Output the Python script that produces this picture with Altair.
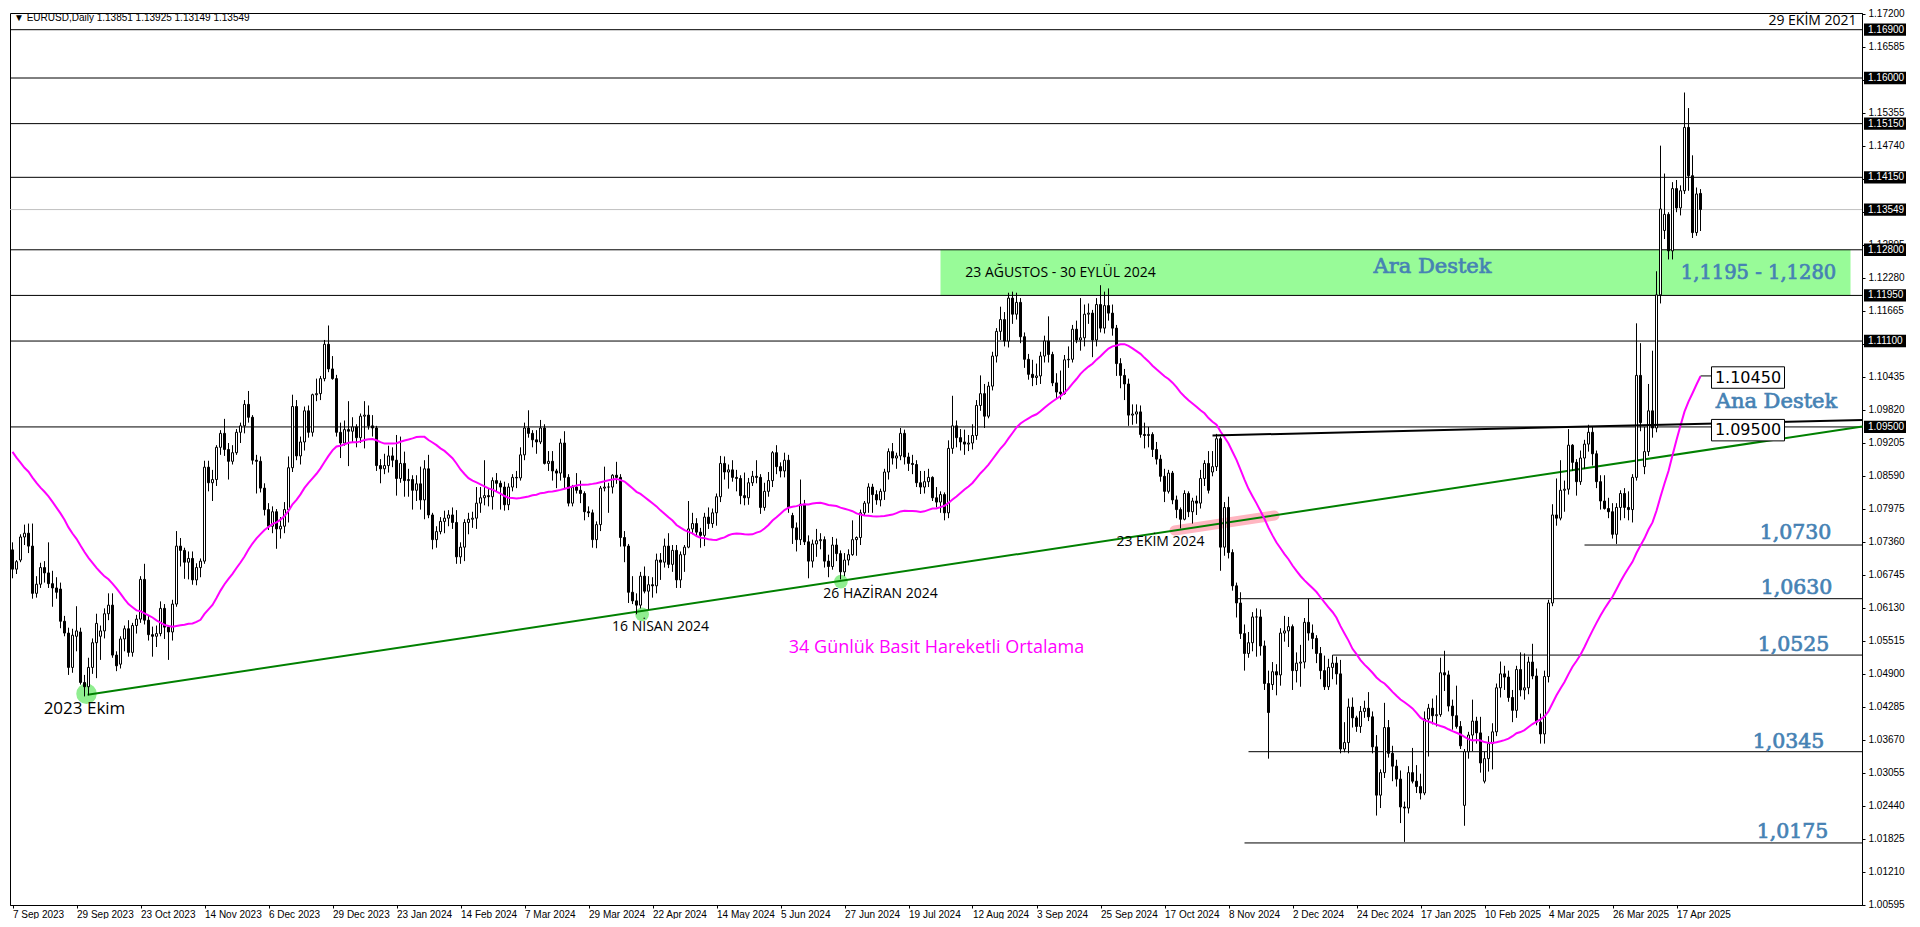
import altair as alt
import pandas as pd

# ---------------- data (prices x 10000) ----------------
# closes of the 33 sessions before the first visible bar (needed for the 34-day SMA)
PRE_CLOSE = [11065, 11055, 11085, 10975, 11015, 10995, 10985, 10940, 10945, 11005, 11000,
             10955, 10975, 10980, 10950, 10905, 10905, 10875, 10870, 10870, 10895, 10845,
             10865, 10805, 10795, 10815, 10880, 10925, 10845, 10775, 10795, 10720, 10725]

# (open, high, low, close)
SEP_2023 = [(10721,10735,10668,10685),(10685,10702,10676,10699),(10702,10750,10698,10745),
            (10745,10768,10730,10752),(10752,10770,10715,10728),(10728,10770,10630,10640),
            (10640,10672,10632,10657),(10657,10697,10650,10688),(10688,10700,10660,10678),
            (10678,10735,10650,10658),(10658,10682,10615,10650),(10650,10670,10630,10642),
            (10648,10660,10575,10588),(10588,10598,10560,10566),(10566,10576,10488,10502),
            (10502,10574,10492,10562),(10560,10616,10532,10570)]
OCT_2023 = [(10568,10576,10470,10474),(10474,10488,10448,10466),(10466,10520,10450,10502),
            (10502,10556,10490,10548),(10548,10602,10482,10584),(10560,10580,10516,10570),
            (10570,10612,10556,10602),(10602,10640,10590,10618),(10618,10640,10520,10525),
            (10525,10532,10495,10505),(10508,10560,10500,10555),(10555,10580,10532,10574),
            (10574,10590,10522,10530),(10530,10585,10522,10580),(10580,10600,10565,10592),
            (10592,10672,10585,10666),(10666,10695,10582,10590),(10590,10598,10552,10563),
            (10563,10578,10522,10560),(10560,10580,10540,10565),(10565,10625,10560,10612),
            (10612,10620,10555,10577)]
NOV_2023 = [(10577,10580,10516,10568),(10568,10628,10552,10620),(10620,10756,10615,10728),
            (10728,10743,10690,10720),(10720,10725,10667,10698),(10698,10718,10666,10705),
            (10705,10718,10656,10665),(10665,10696,10655,10688),(10688,10705,10670,10700),
            (10700,10887,10695,10875),(10875,10887,10830,10846),(10846,10870,10812,10852),
            (10852,10916,10840,10912),(10912,10944,10898,10938),(10938,10965,10896,10908),
            (10908,10920,10852,10886),(10886,10916,10880,10902),(10902,10946,10898,10940),
            (10940,10958,10920,10952),(10952,11000,10938,10992),(10992,11017,10958,10968),
            (10968,10972,10880,10888)]
DEC_2023 = [(10888,10898,10826,10886),(10886,10895,10828,10836),(10836,10845,10785,10796),
            (10796,10808,10758,10765),(10765,10802,10752,10792),(10792,10797,10723,10760),
            (10760,10782,10742,10765),(10765,10810,10752,10796),(10796,10895,10772,10874),
            (10874,11010,10866,10988),(10988,11000,10888,10896),(10896,10932,10880,10922),
            (10922,10988,10906,10980),(10980,10990,10930,10940),(10940,11012,10932,11010),
            (11010,11040,10998,11012),(11012,11045,11000,11040),(11040,11112,11035,11104),
            (11104,11139,11052,11058),(11058,11082,11038,11040)]
JAN_2024 = [(11040,11047,10932,10940),(10940,10958,10892,10920),(10920,10962,10915,10945),
            (10945,10998,10877,10942),(10942,10968,10920,10950),(10950,10955,10912,10930),
            (10930,10975,10920,10970),(10970,10998,10910,10972),(10972,10990,10945,10952),
            (10952,10972,10932,10948),(10948,10952,10868,10878),(10878,10890,10845,10872),
            (10872,10900,10862,10878),(10878,10915,10865,10896),(10896,10912,10875,10888),
            (10888,10935,10822,10854),(10854,10932,10846,10882),(10882,10904,10820,10850),
            (10850,10872,10820,10852),(10852,10860,10796,10832),(10832,10860,10812,10844),
            (10844,10876,10796,10814)]
FEB_2024 = [(10814,10888,10778,10872),(10872,10898,10780,10786),(10786,10790,10722,10740),
            (10740,10765,10725,10755),(10755,10782,10750,10774),(10774,10794,10752,10780),
            (10780,10795,10765,10786),(10786,10800,10760,10772),(10772,10795,10695,10708),
            (10708,10735,10695,10726),(10726,10778,10700,10772),(10772,10790,10750,10778),
            (10778,10792,10762,10780),(10780,10838,10760,10808),(10808,10838,10790,10818),
            (10818,10888,10804,10822),(10822,10836,10802,10820),(10820,10856,10796,10850),
            (10850,10864,10830,10845),(10845,10850,10796,10838),(10838,10848,10794,10805)]
MAR_2024 = [(10805,10845,10795,10838),(10838,10862,10830,10856),(10856,10868,10836,10855),
            (10855,10912,10850,10898),(10898,10958,10888,10948),(10948,10981,10930,10938),
            (10938,10944,10912,10926),(10926,10944,10900,10922),(10922,10963,10918,10948),
            (10948,10955,10880,10882),(10882,10905,10868,10886),(10886,10905,10850,10868),
            (10868,10872,10836,10864),(10864,10928,10850,10920),(10920,10942,10834,10856),
            (10856,10862,10802,10808),(10808,10842,10802,10838),(10838,10864,10826,10832),
            (10832,10850,10808,10826),(10826,10830,10776,10792),(10792,10802,10782,10790)]
APR_2024 = [(10790,10796,10725,10740),(10740,10774,10724,10768),(10768,10840,10756,10836),
            (10836,10876,10830,10838),(10838,10846,10790,10838),(10838,10862,10826,10860),
            (10860,10885,10844,10856),(10856,10862,10727,10744),(10744,10756,10698,10728),
            (10728,10732,10622,10642),(10642,10672,10620,10626),(10626,10640,10601,10618),
            (10618,10680,10612,10672),(10672,10690,10640,10644),(10644,10672,10610,10656),
            (10656,10670,10632,10654),(10654,10714,10640,10702),(10702,10715,10665,10698),
            (10698,10742,10688,10728),(10728,10752,10687,10694),(10694,10730,10680,10720),
            (10720,10730,10650,10665)]
MAY_2024 = [(10665,10718,10650,10712),(10712,10730,10680,10726),(10726,10812,10724,10760),
            (10760,10790,10750,10770),(10770,10780,10748,10754),(10754,10762,10725,10748),
            (10748,10790,10728,10782),(10782,10800,10760,10770),(10770,10798,10762,10790),
            (10790,10826,10766,10820),(10820,10896,10810,10882),(10882,10895,10852,10866),
            (10866,10880,10835,10870),(10870,10888,10848,10856),(10856,10870,10830,10854),
            (10854,10860,10806,10822),(10822,10865,10804,10818),(10818,10855,10805,10846),
            (10846,10868,10840,10858),(10858,10888,10845,10856),(10856,10862,10788,10800),
            (10800,10846,10794,10830),(10830,10866,10820,10850)]
JUN_2024 = [(10850,10905,10838,10902),(10902,10916,10862,10876),(10876,10884,10856,10868),
            (10868,10902,10856,10888),(10888,10898,10790,10800),(10785,10790,10732,10762),
            (10762,10772,10718,10740),(10740,10852,10730,10806),(10806,10814,10730,10736),
            (10736,10748,10668,10700),(10700,10740,10688,10732),(10732,10760,10708,10738),
            (10738,10752,10722,10740),(10740,10746,10688,10700),(10700,10712,10670,10690),
            (10690,10745,10684,10730),(10730,10742,10700,10714),(10714,10720,10666,10680),
            (10680,10715,10672,10702),(10702,10722,10692,10712)]
JUL_2024 = [(10712,10776,10710,10740),(10740,10746,10710,10744),(10744,10796,10730,10790),
            (10790,10812,10784,10808),(10808,10845,10790,10838),(10838,10844,10790,10824),
            (10824,10832,10805,10814),(10814,10835,10802,10830),(10830,10872,10814,10866),
            (10866,10910,10852,10904),(10904,10920,10880,10892),(10892,10902,10872,10896),
            (10896,10948,10888,10938),(10938,10945,10880,10894),(10894,10902,10868,10882),
            (10882,10898,10862,10880),(10880,10888,10838,10846),(10846,10868,10825,10838),
            (10838,10868,10826,10848),(10848,10872,10838,10856),(10856,10858,10812,10818),
            (10818,10838,10800,10810),(10810,10830,10790,10824)]
AUG_2024 = [(10824,10828,10776,10790),(10790,10925,10780,10910),(10910,11008,10900,10952),
            (10952,10962,10912,10930),(10930,10946,10906,10922),(10922,10945,10898,10918),
            (10918,10935,10905,10920),(10920,10955,10908,10934),(10934,11000,10926,10990),
            (10990,11046,10980,11012),(11012,11030,10948,10970),(10970,11034,10966,11026),
            (11026,11090,11018,11082),(11082,11134,11070,11128),(11128,11174,11112,11150),
            (11150,11164,11100,11110),(11110,11200,11098,11190),(11190,11202,11142,11160),
            (11160,11200,11150,11182),(11182,11190,11106,11118),(11118,11126,11060,11076),
            (11076,11086,11038,11048)]
SEP_2024 = [(11048,11075,11026,11042),(11042,11068,11028,11045),(11045,11090,11030,11082),
            (11082,11120,11070,11110),(11110,11156,11070,11085),(11085,11090,11026,11032),
            (11032,11050,11002,11015),(11015,11055,11001,11012),(11012,11084,11010,11075),
            (11075,11100,11060,11076),(11076,11140,11070,11132),(11132,11148,11106,11112),
            (11112,11190,11092,11116),(11116,11178,11100,11160),(11160,11180,11142,11162),
            (11162,11168,11080,11112),(11112,11190,11100,11178),(11178,11214,11126,11134),
            (11134,11202,11124,11176),(11176,11208,11148,11162),(11162,11178,11120,11134)]
OCT_2024 = [(11134,11140,11045,11068),(11068,11078,11022,11046),(11046,11058,11000,11030),
            (11030,11040,10952,10972),(10972,10992,10954,10974),(10974,10992,10956,10978),
            (10978,10990,10930,10936),(10936,10958,10910,10934),(10934,10950,10912,10936),
            (10936,10940,10894,10908),(10908,10922,10880,10890),(10890,10898,10848,10858),
            (10858,10872,10810,10830),(10830,10870,10826,10864),(10864,10868,10806,10814),
            (10814,10822,10780,10796),(10796,10800,10761,10778),(10778,10832,10776,10826),
            (10826,10830,10782,10792),(10792,10818,10770,10812),(10812,10822,10786,10808),
            (10808,10870,10798,10854),(10854,10888,10840,10882)]
NOV_2024 = [(10882,10905,10826,10832),(10866,10905,10858,10876),(10876,10937,10868,10928),
            (10928,10932,10682,10726),(10726,10810,10710,10800),(10800,10820,10705,10716),
            (10716,10722,10645,10654),(10654,10660,10595,10622),(10622,10642,10555,10565),
            (10565,10582,10496,10528),(10528,10568,10520,10548),(10548,10605,10532,10596),
            (10596,10612,10522,10596),(10596,10610,10524,10542),(10542,10552,10460,10472),
            (10472,10496,10332,10418),(10470,10512,10460,10494),(10494,10508,10450,10488),
            (10488,10575,10468,10566),(10566,10598,10550,10570),(10570,10596,10540,10578)]
DEC_2024 = [(10578,10582,10460,10496),(10496,10530,10474,10510),(10510,10544,10466,10512),
            (10512,10594,10500,10586),(10586,10630,10552,10566),(10566,10582,10536,10556),
            (10556,10562,10510,10528),(10528,10540,10480,10496),(10496,10524,10460,10466),
            (10466,10518,10460,10502),(10502,10525,10480,10510),(10510,10522,10470,10490),
            (10490,10516,10342,10350),(10350,10400,10344,10362),(10362,10444,10342,10428),
            (10428,10446,10390,10408),(10408,10412,10382,10392),(10392,10430,10380,10420),
            (10420,10440,10408,10426),(10426,10456,10402,10410),(10410,10420,10342,10354)]
JAN_2025 = [(10354,10376,10226,10264),(10264,10312,10240,10306),(10306,10436,10296,10390),
            (10390,10404,10334,10342),(10342,10356,10290,10318),(10318,10330,10280,10294),
            (10294,10310,10212,10242),(10242,10252,10177,10240),(10240,10318,10230,10306),
            (10306,10352,10286,10290),(10290,10320,10268,10280),(10280,10304,10256,10268),
            (10268,10420,10264,10406),(10406,10434,10336,10426),(10426,10444,10396,10412),
            (10412,10450,10392,10414),(10414,10520,10410,10492),(10492,10533,10458,10488),
            (10488,10496,10420,10430),(10430,10442,10386,10412),(10412,10468,10388,10392),
            (10392,10402,10350,10356)]
FEB_2025 = [(10245,10350,10207,10345),(10345,10382,10332,10376),(10376,10442,10346,10402),
            (10402,10410,10360,10380),(10380,10410,10306,10324),(10290,10345,10286,10332),
            (10332,10374,10308,10360),(10360,10398,10312,10382),(10382,10472,10374,10464),
            (10464,10513,10446,10490),(10490,10505,10460,10484),(10484,10496,10438,10446),
            (10446,10460,10400,10422),(10422,10505,10408,10498),(10498,10530,10448,10460),
            (10460,10528,10442,10464),(10464,10522,10452,10512),(10512,10546,10480,10486),
            (10486,10500,10394,10400),(10400,10416,10360,10378)]
MAR_2025 = [(10378,10496,10360,10485),(10485,10628,10474,10622),(10622,10806,10616,10786),
            (10786,10854,10766,10780),(10780,10888,10776,10832),(10832,10850,10792,10834),
            (10834,10946,10824,10916),(10916,10918,10868,10884),(10884,10890,10822,10848),
            (10848,10906,10842,10892),(10892,10926,10872,10918),(10918,10954,10904,10940),
            (10940,10950,10878,10900),(10900,10906,10836,10848),(10848,10860,10796,10812),
            (10812,10860,10796,10798),(10798,10818,10780,10792),(10792,10808,10742,10750),
            (10750,10808,10732,10800),(10800,10832,10776,10826),(10826,10836,10780,10800)]
APR_2025 = [(10800,10830,10776,10796),(10796,10862,10772,10856),(10856,11143,10850,11046),
            (11046,11106,10942,10958),(10876,10950,10862,10904),(10904,11030,10896,10980),
            (10980,11092,10930,10948),(10948,11240,10940,11196),(11196,11474,11180,11356),
            (11316,11422,11300,11346),(11346,11350,11262,11278),(11278,11406,11262,11394),
            (11394,11410,11350,11358),(11358,11400,11344,11390),(11390,11573,11384,11508),
            (11508,11544,11390,11418),(11418,11456,11302,11312),(11312,11396,11306,11384),
            (11385,11393,11315,11355)]

MONTHS = [SEP_2023, OCT_2023, NOV_2023, DEC_2023, JAN_2024, FEB_2024, MAR_2024, APR_2024,
          MAY_2024, JUN_2024, JUL_2024, AUG_2024, SEP_2024, OCT_2024, NOV_2024, DEC_2024,
          JAN_2025, FEB_2025, MAR_2025, APR_2025]

TICK_LABELS = ['7 Sep 2023', '29 Sep 2023', '23 Oct 2023', '14 Nov 2023', '6 Dec 2023',
               '29 Dec 2023', '23 Jan 2024', '14 Feb 2024', '7 Mar 2024', '29 Mar 2024',
               '22 Apr 2024', '14 May 2024', '5 Jun 2024', '27 Jun 2024', '19 Jul 2024',
               '12 Aug 2024', '3 Sep 2024', '25 Sep 2024', '17 Oct 2024', '8 Nov 2024',
               '2 Dec 2024', '24 Dec 2024', '17 Jan 2025', '10 Feb 2025', '4 Mar 2025',
               '26 Mar 2025', '17 Apr 2025']
TICK_STEP = 16

Y_TICKS = [1.17200, 1.16585, 1.15970, 1.15355, 1.14740, 1.14125, 1.13510, 1.12895, 1.12280,
           1.11665, 1.11050, 1.10435, 1.09820, 1.09205, 1.08590, 1.07975, 1.07360, 1.06745,
           1.06130, 1.05515, 1.04900, 1.04285, 1.03670, 1.03055, 1.02440, 1.01825, 1.01210,
           1.00595]

LEVELS = [1.1690, 1.1600, 1.1515, 1.1415, 1.1280, 1.1195, 1.1110, 1.0950]
CURRENT = 1.13549
SUPPORT_LEVELS = [1.0730, 1.0630, 1.0525, 1.0345, 1.0175]
SUPPORT_START = [393, 306.25, 330, 309, 308]

ZONE = (232, 459.5, 1.1195, 1.1280)
GREEN_TREND = [(18.75, 1.0451), (462.5, 1.0951)]
BLACK_TREND = [(300, 1.0934), (462.5, 1.0963)]
PINK_BAND = [(290.5, 1.0757), (315.5, 1.0785)]
MARKS_X = [18.5, 157.4, 207.1]
MARKS_Y = [1.0453, 1.0601, 1.0662]
MARKS_R = [420, 190, 190]

NOTES = ['2023 Ekim', '16 NİSAN 2024', '26 HAZİRAN 2024', '23 EKİM 2024',
         '23 AĞUSTOS - 30 EYLÜL 2024', '29 EKİM 2021']
NOTES_X = [18, 162, 217, 287, 262, 450]
NOTES_Y = [1.0425, 1.0577, 1.0638, 1.0735, 1.1237, 1.1706]
NOTES_SIZE = [17, 14, 14, 14, 14, 14]

BLUE_WORDS = ['Ara Destek', 'Ana Destek']
BLUE_WORDS_X = [355, 441]
BLUE_WORDS_Y = [1.1248, 1.0997]
BLUE_NUMS = ['1,0730', '1,0630', '1,0525', '1,0345', '1,0175']
BLUE_NUMS_X = [445.75, 446, 445.25, 444, 445]
BLUE_NUMS_Y = [1.0753, 1.0650, 1.0544, 1.0363, 1.0196]
ZONE_TEXT = ('1,1195 - 1,1280', 436.5, 1.1237)

BOX_TEXT = ['1.10450', '1.09500']
BOX_Y = [1.1042, 1.0944]
BOX_X = (424.75, 443)
MA_LABEL_LINK = (422, 424.75, 1.1045)

HEADER = '▼ EURUSD,Daily  1.13851 1.13925 1.13149 1.13549'

# ---------------- tables ----------------
rows = [r for m in MONTHS for r in m]
assert len(rows) == 423, len(rows)
df = pd.DataFrame(rows, columns=['o', 'h', 'l', 'c']) / 10000.0
df['x'] = range(len(df))
df['x0'] = df['x'] - 0.25
df['x1'] = df['x'] + 0.25
df['blo'] = df[['o', 'c']].min(axis=1)
df['bhi'] = df[['o', 'c']].max(axis=1)
df['bull'] = df['c'] >= df['o']

closes = pd.Series(PRE_CLOSE + [r[3] for r in rows]) / 10000.0
ma = closes.rolling(34).mean().iloc[len(PRE_CLOSE):].reset_index(drop=True)
ma_df = pd.DataFrame({'x': range(len(ma)), 'ma': ma})

# ---------------- geometry ----------------
W, H = 1852, 892
X_DOM = [-0.625, 462.375]
Y_DOM = [1.17211 - H / 5368.0, 1.17211]
FONT = 'Liberation Sans'
BLUE = '#4682B4'

xs = alt.Scale(domain=X_DOM, nice=False, zero=False)
ys = alt.Scale(domain=Y_DOM, nice=False, zero=False)
lab_arr = '[' + ','.join("'" + s + "'" for s in TICK_LABELS) + ']'
x_axis = alt.Axis(orient='bottom', values=[i * TICK_STEP for i in range(len(TICK_LABELS))],
                  labelExpr=lab_arr + '[round(datum.value/' + str(TICK_STEP) + ')]',
                  labelAlign='left', labelBaseline='top', labelFont=FONT, labelFontSize=10,
                  labelColor='black', tickColor='black', tickSize=3, labelPadding=1,
                  domainColor='black', grid=False, labelOverlap=False, labelFlush=False,
                  title=None)
y_axis = alt.Axis(orient='right', values=Y_TICKS, format='.5f', labelFont=FONT,
                  labelFontSize=10, labelColor='black', tickColor='black', tickSize=3,
                  labelPadding=3, domainColor='black', grid=False, labelOverlap=False,
                  labelFlush=False, title=None)


def X(f):
    return alt.X(f + ':Q', scale=xs, axis=x_axis, title=None)


def Y(f):
    return alt.Y(f + ':Q', scale=ys, axis=y_axis, title=None)


layers = []

# support zone
zone_df = pd.DataFrame([{'x': ZONE[0], 'x2': ZONE[1], 'y': ZONE[2], 'y2': ZONE[3]}])
layers.append(alt.Chart(zone_df).mark_rect(color='#98FB98').encode(
    x=X('x'), x2='x2', y=Y('y'), y2='y2'))

# full-width levels
lev_df = pd.DataFrame({'y': LEVELS})
layers.append(alt.Chart(lev_df).mark_rule(color='black', strokeWidth=1).encode(y=Y('y')))
layers.append(alt.Chart(pd.DataFrame({'y': [CURRENT]})).mark_rule(
    color='#C0C0C0', strokeWidth=1).encode(y=Y('y')))

# partial support lines
sup_df = pd.DataFrame({'x': SUPPORT_START, 'x2': [X_DOM[1]] * len(SUPPORT_START),
                       'y': SUPPORT_LEVELS})
layers.append(alt.Chart(sup_df).mark_rule(color='black', strokeWidth=1).encode(
    x=X('x'), x2='x2', y=Y('y')))

# pink band on trend line
pink_df = pd.DataFrame([{'x': PINK_BAND[0][0], 'y': PINK_BAND[0][1],
                         'x2': PINK_BAND[1][0], 'y2': PINK_BAND[1][1]}])
layers.append(alt.Chart(pink_df).mark_rule(color='#FFB6C1', strokeWidth=10, opacity=1,
                                           strokeCap='round').encode(
    x=X('x'), x2='x2', y=Y('y'), y2='y2'))

# green highlight dots
dots_df = pd.DataFrame({'x': MARKS_X, 'y': MARKS_Y, 's': MARKS_R})
layers.append(alt.Chart(dots_df).mark_circle(color='#90EE90', opacity=1).encode(
    x=X('x'), y=Y('y'), size=alt.Size('s:Q', scale=None, legend=None)))

# green rising trend line
gt_df = pd.DataFrame([{'x': GREEN_TREND[0][0], 'y': GREEN_TREND[0][1],
                       'x2': GREEN_TREND[1][0], 'y2': GREEN_TREND[1][1]}])
layers.append(alt.Chart(gt_df).mark_rule(color='#008000', strokeWidth=2).encode(
    x=X('x'), x2='x2', y=Y('y'), y2='y2'))

# candles
layers.append(alt.Chart(df).mark_rule(color='black', strokeWidth=1).encode(
    x=X('x'), y=Y('l'), y2='h'))
layers.append(alt.Chart(df).mark_rect(stroke='black', strokeWidth=1).encode(
    x=X('x0'), x2='x1', y=Y('blo'), y2='bhi',
    fill=alt.condition('datum.bull', alt.value('white'), alt.value('black'))))

# 34-day SMA
layers.append(alt.Chart(ma_df).mark_line(color='#FF00FF', strokeWidth=2).encode(
    x=X('x'), y=Y('ma')))

# black trend line
bt_df = pd.DataFrame([{'x': BLACK_TREND[0][0], 'y': BLACK_TREND[0][1],
                       'x2': BLACK_TREND[1][0], 'y2': BLACK_TREND[1][1]}])
layers.append(alt.Chart(bt_df).mark_rule(color='black', strokeWidth=2).encode(
    x=X('x'), x2='x2', y=Y('y'), y2='y2'))

# boxed labels
link_df = pd.DataFrame([{'x': MA_LABEL_LINK[0], 'x2': MA_LABEL_LINK[1], 'y': MA_LABEL_LINK[2]}])
layers.append(alt.Chart(link_df).mark_rule(color='black', strokeWidth=1).encode(
    x=X('x'), x2='x2', y=Y('y')))
box_df = pd.DataFrame({'t': BOX_TEXT, 'y': BOX_Y})
box_df['x'] = BOX_X[0]
box_df['x2'] = BOX_X[1]
box_df['xm'] = (BOX_X[0] + BOX_X[1]) / 2
box_df['ylo'] = box_df['y'] - 0.0020
box_df['yhi'] = box_df['y'] + 0.0020
layers.append(alt.Chart(box_df).mark_rect(fill='white', stroke='black', strokeWidth=1).encode(
    x=X('x'), x2='x2', y=Y('ylo'), y2='yhi'))
layers.append(alt.Chart(box_df).mark_text(font='DejaVu Sans', fontSize=16, color='black',
                                          baseline='middle', align='center').encode(
    x=X('xm'), y=Y('y'), text='t:N'))

# annotation texts
notes_df = pd.DataFrame({'t': NOTES, 'x': NOTES_X, 'y': NOTES_Y, 's': NOTES_SIZE})
for s in sorted(set(NOTES_SIZE)):
    layers.append(alt.Chart(notes_df[notes_df.s == s]).mark_text(
        font='Open Sans', fontSize=s, color='black', baseline='middle', align='center').encode(
        x=X('x'), y=Y('y'), text='t:N'))
layers.append(alt.Chart(pd.DataFrame({'t': ['34 Günlük Basit Hareketli Ortalama'],
                                      'x': [231], 'y': [1.0538]})).mark_text(
    font='Open Sans', fontSize=18, color='#FF00FF', baseline='middle', align='center').encode(
    x=X('x'), y=Y('y'), text='t:N'))

# steel-blue slab-style labels (regular weight, thickened with a thin outline)
words_df = pd.DataFrame({'t': BLUE_WORDS, 'x': BLUE_WORDS_X, 'y': BLUE_WORDS_Y})
layers.append(alt.Chart(words_df).mark_text(font='DejaVu Serif', fontSize=21, color=BLUE,
                                            stroke=BLUE, strokeWidth=0.7, baseline='middle',
                                            align='center').encode(
    x=X('x'), y=Y('y'), text='t:N'))
nums_df = pd.DataFrame({'t': BLUE_NUMS, 'x': BLUE_NUMS_X, 'y': BLUE_NUMS_Y})
layers.append(alt.Chart(nums_df).mark_text(font='DejaVu Serif', fontSize=20.5, color=BLUE,
                                           stroke=BLUE, strokeWidth=0.7, baseline='middle',
                                           align='center').encode(
    x=X('x'), y=Y('y'), text='t:N'))
zt_df = pd.DataFrame([{'t': ZONE_TEXT[0], 'x': ZONE_TEXT[1], 'y': ZONE_TEXT[2]}])
layers.append(alt.Chart(zt_df).mark_text(font='DejaVu Serif', fontSize=19.5, color=BLUE,
                                         stroke=BLUE, strokeWidth=0.7, baseline='middle',
                                         align='center').encode(
    x=X('x'), y=Y('y'), text='t:N'))

# highlighted price labels on the right axis
hl_df = pd.DataFrame({'y': LEVELS + [CURRENT]})
hl_df['lab'] = hl_df['y'].map(lambda v: '%.5f' % v)
hl_df['ylo'] = hl_df['y'] - 0.00115
hl_df['yhi'] = hl_df['y'] + 0.00115
layers.append(alt.Chart(hl_df).mark_rect(color='black').encode(
    x=alt.value(W + 2), x2=alt.value(W + 44), y=Y('ylo'), y2='yhi'))
layers.append(alt.Chart(hl_df).mark_text(font=FONT, fontSize=10, color='white', align='left',
                                         baseline='middle').encode(
    x=alt.value(W + 6), y=Y('y'), text='lab:N'))

# header
layers.append(alt.Chart(pd.DataFrame({'t': [HEADER]})).mark_text(
    font=FONT, fontSize=10, color='black', align='left', baseline='middle').encode(
    x=alt.value(4), y=alt.value(5), text='t:N'))

chart = alt.layer(*layers).properties(width=W, height=H, padding=0, background='white') \
    .configure_view(stroke='black', strokeWidth=1)

chart.save('out.html', embed_options={'renderer': 'svg', 'actions': False})
